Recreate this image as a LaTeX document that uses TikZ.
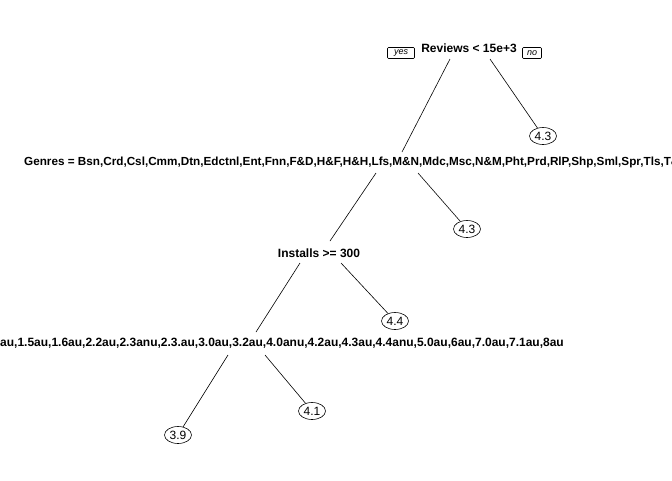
\documentclass[tikz,border=0pt]{standalone}
\usepackage{fontspec}
\setmainfont{Liberation Sans}
\usetikzlibrary{shapes.geometric}
\tikzset{
  splitlabel/.style={font=\fontsize{12}{14}\selectfont\bfseries, inner sep=0pt},
  leaf/.style={draw, ellipse, line width=0.6pt, minimum width=27pt, minimum height=17pt, inner sep=0pt, font=\fontsize{12}{14}\selectfont},
  yesno/.style={draw, rounded corners=1pt, line width=0.6pt, font=\fontsize{9}{10}\selectfont\itshape, minimum height=11pt, inner sep=1.5pt},
  branch/.style={line width=0.6pt}
}
\begin{document}
\begin{tikzpicture}[x=1pt,y=-1pt]
\useasboundingbox (0,0) rectangle (672,480);
\clip (0,0) rectangle (672,480);
% split labels
\node[splitlabel] (root) at (469,48) {Reviews < 15e+3};
\node[yesno, minimum width=27pt] (yes) at (401,53) {yes};
\node[yesno, minimum width=19pt] (no) at (532,53) {no};
\node[splitlabel, anchor=west, font=\fontsize{11.72}{14}\selectfont\bfseries] (genres) at (24,162) {Genres = Bsn,Crd,Csl,Cmm,Dtn,Edctnl,Ent,Fnn,F\&D,H\&F,H\&H,Lfs,M\&N,Mdc,Msc,N\&M,Pht,Prd,RlP,Shp,Sml,Spr,Tls,T\&L};
\node[splitlabel] (installs) at (319,253) {Installs >= 300};
\node[splitlabel, anchor=east] (andver) at (564,343) {1.0au,1.5au,1.6au,2.2au,2.3anu,2.3.au,3.0au,3.2au,4.0anu,4.2au,4.3au,4.4anu,5.0au,6au,7.0au,7.1au,8au};
% leaves
\node[leaf] (l1) at (543,136) {4.3};
\node[leaf] (l2) at (467,229) {4.3};
\node[leaf] (l3) at (395,321) {4.4};
\node[leaf] (l4) at (178,435) {3.9};
\node[leaf] (l5) at (312,411) {4.1};
% branch end points
\coordinate (rL) at (450,59);
\coordinate (rLe) at (402,152);
\coordinate (rR) at (490,59);
\coordinate (gL) at (376,173);
\coordinate (gLe) at (330,241);
\coordinate (gR) at (418,173);
\coordinate (iL) at (300,263);
\coordinate (iLe) at (256,332);
\coordinate (iR) at (341,263);
\coordinate (bL) at (228,355);
\coordinate (bR) at (265,355);
% branches
\draw[branch] (rL) -- (rLe);
\draw[branch] (rR) -- (l1);
\draw[branch] (gL) -- (gLe);
\draw[branch] (gR) -- (l2);
\draw[branch] (iL) -- (iLe);
\draw[branch] (iR) -- (l3);
\draw[branch] (bL) -- (l4);
\draw[branch] (bR) -- (l5);
\end{tikzpicture}
\end{document}
